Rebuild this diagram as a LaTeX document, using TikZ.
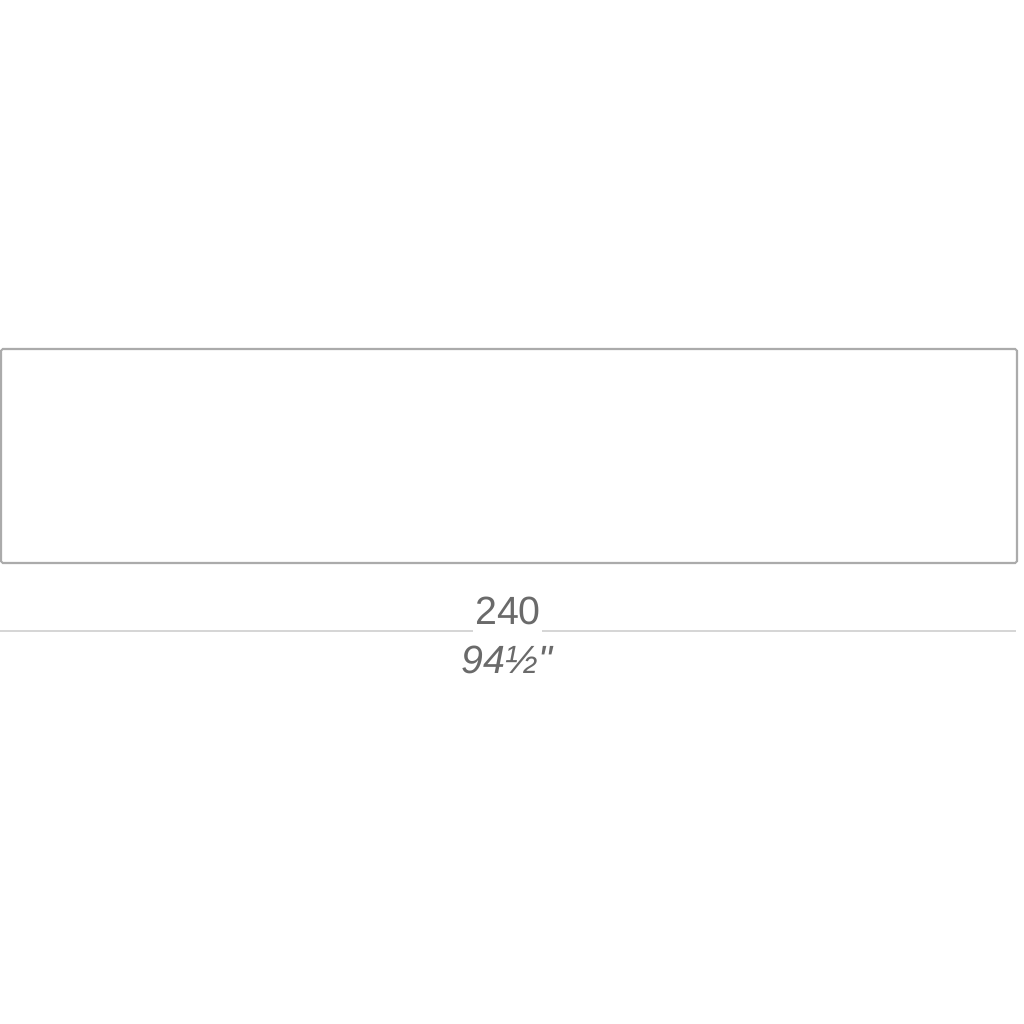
\documentclass[tikz,border=0pt]{standalone}
\usepackage{fontspec}
\setmainfont{Liberation Sans}[Ligatures=TeXOff]
\usetikzlibrary{positioning}
\definecolor{outline}{HTML}{ABABAB}
\definecolor{dimline}{HTML}{D6D6D6}
\definecolor{dimtext}{HTML}{6A6A6A}

\begin{document}
\begin{tikzpicture}[x=1cm,y=1cm,
  box/.style={draw=outline,line width=0.6pt,rounded corners=0.5pt},
  dim/.style={draw=dimline,line width=0.6pt},
  lbl/.style={text=dimtext,font=\fontsize{11.2}{13}\selectfont,inner sep=0pt}]
  \useasboundingbox[fill=white] (0,0) rectangle (10.24,10.24);
  % top view of the sofa
  \draw[box] (0.01,4.61) rectangle (10.17,6.75);
  % dimension line with its labels
  \coordinate (dimL) at (0,3.93);
  \coordinate (dimR) at (10.16,3.93);
  \coordinate (gapL) at (4.73,3.93);
  \coordinate (gapR) at (5.42,3.93);
  \node[lbl] (cm) at (5.08,4.13) {240};
  \node[lbl,font=\fontsize{11.2}{13}\selectfont\itshape] (inch) at (5.07,3.64) {94½"};
  \draw[dim] (dimL) -- (gapL);
  \draw[dim] (gapR) -- (dimR);
\end{tikzpicture}
\end{document}
